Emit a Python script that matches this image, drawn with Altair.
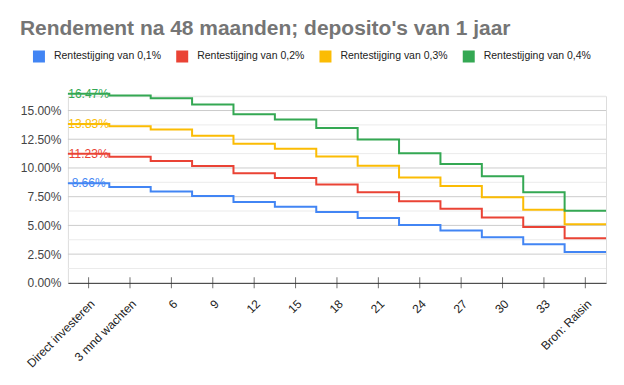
import json
import altair as alt
import pandas as pd

# ---- data ----
categories = ["Direct investeren", "3 mnd wachten", "6", "9", "12", "15", "18",
              "21", "24", "27", "30", "33", "Bron: Raisin"]
series_names = ["Rentestijging van 0,1%", "Rentestijging van 0,2%",
                "Rentestijging van 0,3%", "Rentestijging van 0,4%"]
rente_01 = [8.66, 8.34, 7.96, 7.56, 7.04, 6.63, 6.17, 5.65, 5.04, 4.55, 3.97, 3.36, 2.69]
rente_02 = [11.23, 10.98, 10.60, 10.17, 9.55, 9.12, 8.57, 7.88, 7.10, 6.46, 5.68, 4.87, 3.88]
rente_03 = [13.83, 13.64, 13.35, 12.80, 12.11, 11.67, 11.00, 10.19, 9.18, 8.43, 7.44, 6.37, 5.10]
rente_04 = [16.47, 16.30, 16.07, 15.52, 14.68, 14.22, 13.47, 12.48, 11.27, 10.34, 9.27, 7.88, 6.28]
colors = ["#4285F4", "#EA4335", "#FBBC04", "#34A853"]
y_ticks = [0, 2.5, 5, 7.5, 10, 12.5, 15]
major_grid = [2.5, 5, 7.5, 10, 12.5, 15]
minor_grid = [1.25, 3.75, 6.25, 8.75, 11.25, 13.75, 16.25]

all_series = [rente_01, rente_02, rente_03, rente_04]

# each category occupies one band: a step from (i - 0.5) to (i + 0.5)
rows = []
for name, vals in zip(series_names, all_series):
    for i, v in enumerate(vals):
        rows.append({"serie": name, "x": i - 0.5, "rendement": v / 100})
    rows.append({"serie": name, "x": len(vals) - 0.5, "rendement": vals[-1] / 100})
df = pd.DataFrame(rows)

labels_df = pd.DataFrame({
    "serie": series_names,
    "x": [0] * len(series_names),
    "rendement": [s[0] / 100 for s in all_series],
})
major_df = pd.DataFrame({"rendement": [v / 100 for v in major_grid]})
minor_df = pd.DataFrame({"rendement": [v / 100 for v in minor_grid]})
ticks_df = pd.DataFrame({"x": list(range(len(categories))), "rendement": [0.0] * len(categories)})

n = len(categories)
x_scale = alt.Scale(domain=[-0.5, n - 0.5], nice=False, zero=False)
y_scale = alt.Scale(domain=[0, 0.1625], nice=False, zero=True)
color_scale = alt.Scale(domain=series_names, range=colors)
label_expr = json.dumps(categories) + "[datum.value]"

y_axis = alt.Axis(values=[v / 100 for v in y_ticks], format=".2%", title=None,
                  grid=False, domain=False, ticks=False, labelFontSize=12,
                  labelFont="Arial", labelColor="#444444", labelPadding=7)

minor = alt.Chart(minor_df).mark_rule(color="#ebebeb", strokeWidth=1).encode(
    y=alt.Y("rendement:Q", scale=y_scale, axis=y_axis)
)
major = alt.Chart(major_df).mark_rule(color="#cccccc", strokeWidth=1).encode(
    y=alt.Y("rendement:Q", scale=y_scale, axis=y_axis)
)

lines = alt.Chart(df).mark_line(interpolate="step-after", strokeWidth=2).encode(
    x=alt.X("x:Q", scale=x_scale,
            axis=alt.Axis(values=list(range(n)), labelExpr=label_expr, title=None,
                          grid=False, domainColor="#333333", tickColor="#333333",
                          tickOpacity=0, tickSize=6, labelAngle=-45, labelAlign="right",
                          labelBaseline="top", labelFontSize=12, labelFont="Arial",
                          labelColor="#222222", labelPadding=9, labelOverlap=False,
                          labelBound=False, labelFlush=False)),
    y=alt.Y("rendement:Q", scale=y_scale, axis=y_axis),
    color=alt.Color("serie:N", scale=color_scale,
                    legend=alt.Legend(title=None, orient="none", legendX=-35, legendY=-46,
                                      direction="horizontal", symbolType="square",
                                      symbolSize=49, symbolStrokeWidth=5,
                                      labelFontSize=10.5, labelFont="Arial",
                                      labelColor="#222222", columnPadding=6.5,
                                      labelOffset=9)),
)

# axis ticks that cross the baseline, as in the reference
tick_marks = alt.Chart(ticks_df).mark_tick(orient="vertical", size=11, thickness=1,
                                           color="#333333").encode(
    x=alt.X("x:Q", scale=x_scale),
    y=alt.Y("rendement:Q", scale=y_scale, axis=y_axis),
)

texts = alt.Chart(labels_df).mark_text(fontSize=12, font="Arial", align="center",
                                       baseline="middle").encode(
    x=alt.X("x:Q", scale=x_scale),
    y=alt.Y("rendement:Q", scale=y_scale, axis=y_axis),
    text=alt.Text("rendement:Q", format=".2%"),
    color=alt.Color("serie:N", scale=color_scale, legend=None),
)

chart = alt.layer(minor, major, lines, tick_marks, texts).properties(
    width=539,
    height=187,
    padding={"left": 60, "top": 88, "right": 10, "bottom": 90},
    autosize=alt.AutoSizeParams(type="none"),
    title=alt.TitleParams("Rendement na 48 maanden; deposito's van 1 jaar",
                          anchor="start", frame="group", dx=-48, offset=11,
                          fontSize=21, font="Arial", fontWeight="bold",
                          color="#757575"),
).configure_view(stroke=None).configure(background="white")

chart.save("out.html", embed_options={"renderer": "svg", "actions": False})
